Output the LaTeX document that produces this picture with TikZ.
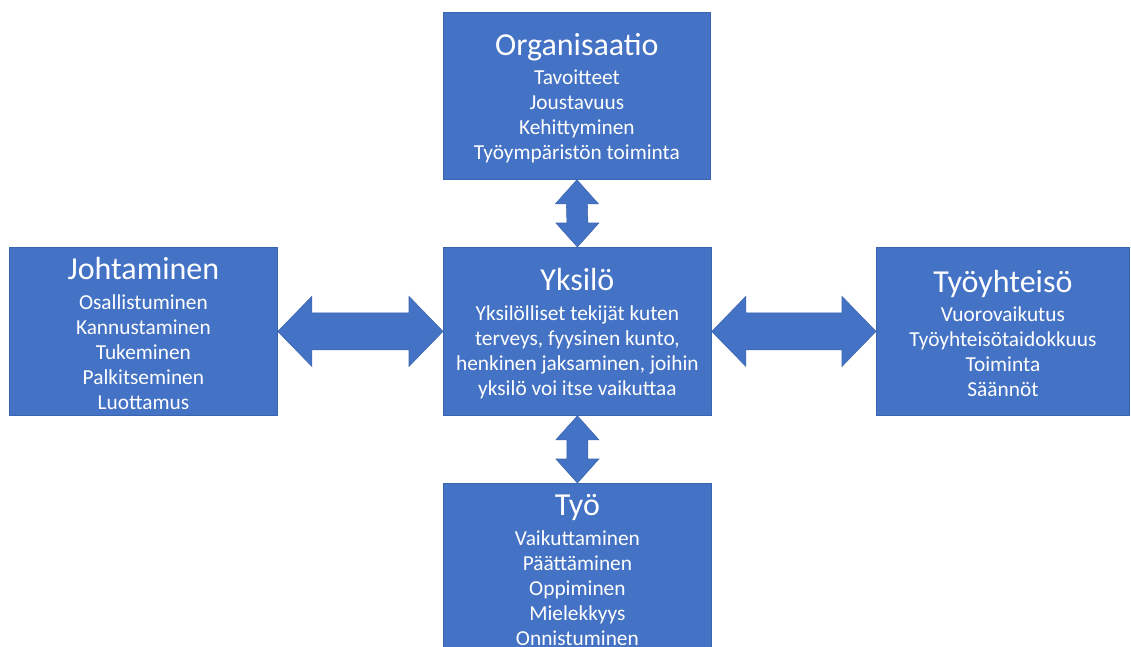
\documentclass[tikz,border=0pt]{standalone}
\usepackage{fontspec}
\setmainfont{Carlito}
\usetikzlibrary{calc}

\definecolor{laatikonsini}{HTML}{4472C4}
\definecolor{reunansini}{HTML}{3B64AE}

% Otsikkorivi laatikon ylaosaan
\newcommand{\otsikko}[1]{{\fontsize{24}{28}\selectfont\rule{0pt}{20pt}#1}\\[3.5pt]}

% Kaksipainen nuoli ylhaalta alas
\newcommand{\pystynuoli}[2]{%
  \path[nuoli] (#1) -- ($(#1)+(21.5,24)$) -- ($(#1)+(10.5,24)$)
    -- ($(#2)+(10.5,-24)$) -- ($(#2)+(21.5,-24)$) -- (#2)
    -- ($(#2)+(-21.5,-24)$) -- ($(#2)+(-10.5,-24)$)
    -- ($(#1)+(-10.5,24)$) -- ($(#1)+(-21.5,24)$) -- cycle;}

% Kaksipainen nuoli vasemmalta oikealle
\newcommand{\vaakanuoli}[2]{%
  \path[nuoli] (#1) -- ($(#1)+(34,-35)$) -- ($(#1)+(34,-18.5)$)
    -- ($(#2)+(-34,-18.5)$) -- ($(#2)+(-34,-35)$) -- (#2)
    -- ($(#2)+(-34,35)$) -- ($(#2)+(-34,18.5)$)
    -- ($(#1)+(34,18.5)$) -- ($(#1)+(34,35)$) -- cycle;}

\begin{document}
\begin{tikzpicture}[x=0.75pt,y=-0.75pt,
    laatikko/.style={draw=reunansini, line width=0.6pt, fill=laatikonsini,
      text=white, align=center, inner sep=0pt, anchor=north west,
      font=\fontsize{16}{18.75}\selectfont},
    nuoli/.style={fill=laatikonsini, draw=reunansini, line width=0.4pt,
      line join=miter}]

    \useasboundingbox (0,0) rectangle (1131,646);

    % Laatikot
    \node[laatikko, minimum width=200.25pt, minimum height=125.25pt] (org) at (443,12)
      {\otsikko{Organisaatio}Tavoitteet\\ Joustavuus\\ Kehittyminen\\ Työympäristön toiminta};
    \node[laatikko, minimum width=201pt, minimum height=126pt] (joh) at (9,247)
      {\otsikko{Johtaminen}Osallistuminen\\ Kannustaminen\\ Tukeminen\\ Palkitseminen\\ Luottamus};
    \node[laatikko, minimum width=201pt, minimum height=126pt] (yks) at (443,247)
      {\otsikko{Yksilö}Yksilölliset tekijät kuten\\ terveys, fyysinen kunto,\\ henkinen jaksaminen, joihin\\ yksilö voi itse vaikuttaa};
    \node[laatikko, minimum width=189.75pt, minimum height=126pt] (tyy) at (876,247)
      {\otsikko{Työyhteisö}Vuorovaikutus\\ Työyhteisötaidokkuus\\ Toiminta\\ Säännöt};
    \node[laatikko, minimum width=201pt, minimum height=126pt] (tyo) at (443,483)
      {\otsikko{Työ}Vaikuttaminen\\ Päättäminen\\ Oppiminen\\ Mielekkyys\\ Onnistuminen};

    % Nuolet laatikoiden valissa
    \pystynuoli{org.south}{yks.north}
    \pystynuoli{yks.south}{tyo.north}
    \vaakanuoli{joh.east}{yks.west}
    \vaakanuoli{yks.east}{tyy.west}

\end{tikzpicture}
\end{document}
